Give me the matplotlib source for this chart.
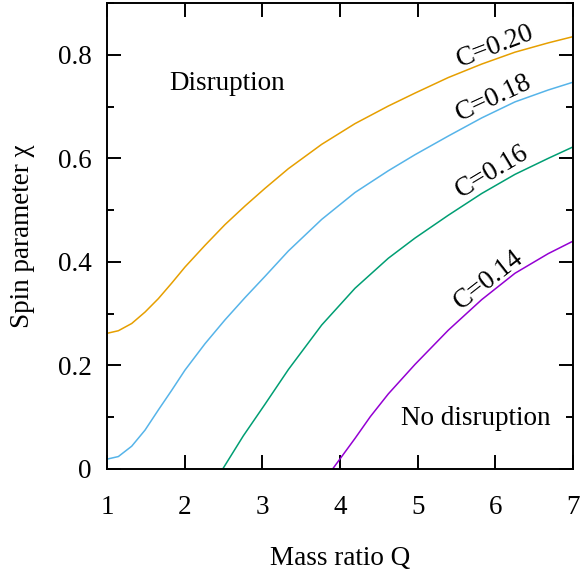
import matplotlib

matplotlib.use("Agg")
import matplotlib.pyplot as plt
from matplotlib.ticker import MultipleLocator

plt.rcParams["font.family"] = ["Liberation Serif", "DejaVu Serif"]

# C = 0.20
q_c20 = [1.0, 1.146, 1.318, 1.489, 1.661, 1.833, 2.004, 2.262, 2.519, 2.777, 3.034,
         3.335, 3.764, 4.193, 4.622, 4.966, 5.394, 5.824, 6.253, 6.682, 7.0]
chi_c20 = [0.262, 0.267, 0.281, 0.303, 0.329, 0.359, 0.390, 0.432, 0.472, 0.508, 0.542,
           0.580, 0.627, 0.667, 0.701, 0.726, 0.756, 0.782, 0.805, 0.823, 0.835]
# C = 0.18
q_c18 = [1.0, 1.146, 1.318, 1.489, 1.661, 1.833, 2.004, 2.262, 2.519, 2.777, 3.034,
         3.335, 3.764, 4.193, 4.622, 4.966, 5.394, 5.824, 6.253, 6.682, 7.0]
chi_c18 = [0.019, 0.024, 0.044, 0.075, 0.114, 0.152, 0.191, 0.242, 0.288, 0.331, 0.372,
           0.421, 0.482, 0.534, 0.576, 0.607, 0.643, 0.678, 0.709, 0.732, 0.747]
# C = 0.16
q_c16 = [2.49, 2.755, 3.034, 3.335, 3.764, 4.193, 4.622, 4.966, 5.394, 5.824, 6.253, 6.682, 7.0]
chi_c16 = [0.0, 0.064, 0.125, 0.192, 0.278, 0.349, 0.407, 0.446, 0.490, 0.532, 0.569, 0.600, 0.622]
# C = 0.14
q_c14 = [3.905, 4.193, 4.39, 4.622, 4.966, 5.394, 5.824, 6.253, 6.682, 7.0]
chi_c14 = [0.0, 0.059, 0.101, 0.145, 0.202, 0.268, 0.327, 0.378, 0.416, 0.440]

curves = [
    (q_c20, chi_c20, "#e69f00", "C=0.20", 6.0, 0.817, 21),
    (q_c18, chi_c18, "#56b4e9", "C=0.18", 5.98, 0.717, 25),
    (q_c16, chi_c16, "#009e73", "C=0.16", 5.96, 0.574, 31),
    (q_c14, chi_c14, "#9400d3", "C=0.14", 5.92, 0.364, 38),
]

fs = 19.5
fig = plt.figure(figsize=(5.81, 5.76), dpi=100)
ax = fig.add_axes([0.1842, 0.1858, 0.8020, 0.8090])

for q, chi, col, lab, lx, ly, rot in curves:
    ax.plot(q, chi, color=col, linewidth=1.1, solid_joinstyle="round")
    ax.text(lx, ly, lab, rotation=rot, ha="center", va="center",
            fontsize=fs, rotation_mode="anchor")

ax.text(2.54, 0.744, "Disruption", ha="center", va="center", fontsize=fs)
ax.text(5.75, 0.098, "No disruption", ha="center", va="center", fontsize=fs)

ax.set_xlim(1, 7)
ax.set_ylim(0, 0.9)
ax.xaxis.set_major_locator(MultipleLocator(1))
ax.yaxis.set_minor_locator(MultipleLocator(0.1))
ax.set_yticks([0, 0.2, 0.4, 0.6, 0.8])
ax.set_yticklabels(["0", "0.2", "0.4", "0.6", "0.8"])

ax.tick_params(which="both", direction="in", top=True, right=True, width=1.4, color="black")
ax.tick_params(axis="x", which="major", length=10, pad=19, labelsize=fs)
ax.tick_params(axis="y", which="major", length=10, pad=11, labelsize=fs)
ax.tick_params(axis="y", which="minor", length=5)
for sp in ax.spines.values():
    sp.set_linewidth(1.4)

ax.set_xlabel("Mass ratio Q", fontsize=fs)
ax.set_ylabel("Spin parameter χ", fontsize=fs)
ax.xaxis.set_label_coords(0.5, -0.193)
ax.xaxis.label.set_va("center")
ax.yaxis.set_label_coords(-0.182, 0.5)
ax.yaxis.label.set_va("center")

fig.savefig("out.png", dpi=100)
plt.close(fig)
